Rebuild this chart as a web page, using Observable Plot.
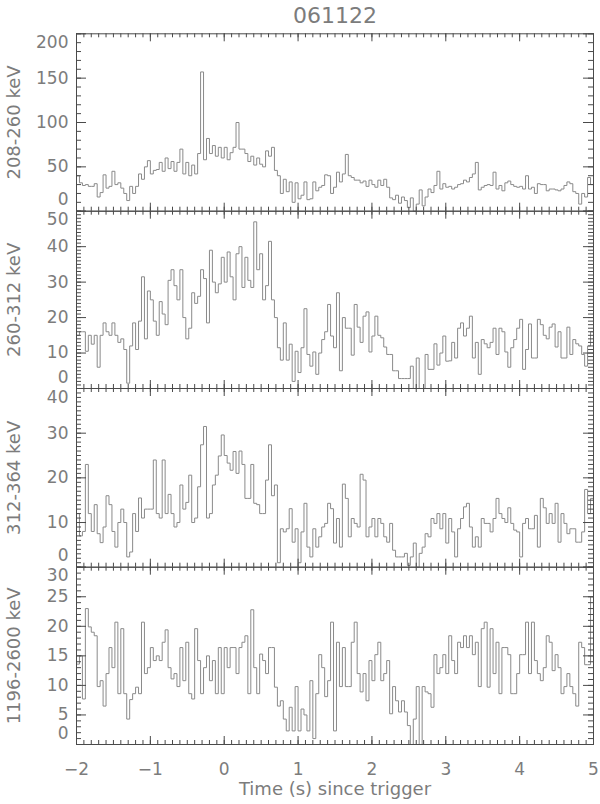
<!DOCTYPE html>
<html><head><meta charset="utf-8">
<script src="https://cdn.jsdelivr.net/npm/d3@7"></script>
<script src="https://cdn.jsdelivr.net/npm/@observablehq/plot@0.6"></script>
<style>
body{margin:0;background:#fff;}
#wrap{position:relative;width:600px;height:804px;overflow:hidden;background:#fff;}
#wrap svg{position:absolute;left:0;top:0;background:transparent !important;overflow:visible;}
</style></head><body><div id="wrap"></div>
<script>
// time bins: start -2 s, width 0.04 s
const tStart = -2;
const binWidth = 0.04;
const title = "061122";
const xTitle = "Time (s) since trigger";
const bandLabels = ["208-260 keV", "260-312 keV", "312-364 keV", "1196-2600 keV"];

const band1 = [40,32,29,30,28,28,31,16,21,41,
 26,28,45,30,32,26,20,12,28,20,
 28,42,36,50,57,42,46,47,55,45,
 60,48,56,45,55,70,42,55,40,52,
 42,65,157,58,82,65,74,62,72,60,
 72,58,66,72,100,70,70,65,56,62,
 52,60,53,50,68,62,72,46,40,20,
 36,22,33,10,32,14,18,33,13,14,
 33,23,27,29,41,40,20,27,44,33,
 42,64,40,38,35,35,32,34,28,35,
 30,27,35,29,36,27,15,13,18,9,
 16,12,4,15,0,8,24,6,16,25,
 21,29,45,25,31,27,28,25,27,30,
 31,35,33,38,42,55,24,27,29,30,
 29,44,25,29,23,32,34,30,28,27,
 28,25,40,25,27,20,31,30,30,23,
 25,25,24,23,25,29,33,31,22,20,
 8,20,16,38,30];

const band2 = [15,16,16,10.5,15,12.5,15,6,15,18.5,
 16,15,18.5,15,13,14,11,1.5,12,18.5,
 11,19,31.5,14,27.5,25,19,15,24.5,21,
 18,30.5,33.5,29,25,33.5,20,14,17,27,
 24,26,33.5,31,18.5,39,30,27,29.5,37,
 30,38.5,31.5,25,38,40,28.5,37,30.5,28.5,
 47,33.5,38,25,29,41.5,25,20,11.5,8,
 18.5,8,12.5,2,10.5,4.5,11.5,22.5,9.6,6.3,
 10.3,4,10,13.8,16,23.7,14.8,11.5,27,5,
 20,17,17,9.4,23.7,17.3,13,20.4,21.6,10.3,
 14.8,20.4,15,14.3,11.7,9.6,9.6,5,5,2.8,
 2.8,2.8,2.8,6.3,0,8.6,0,0,9.6,5.4,
 5.4,12.6,6.6,10,14.8,7.7,7.8,13,8.6,17,
 18.5,14.8,17,20.4,8.6,13,4,13.8,12.6,11.5,
 13,17,9.6,17,16,10.3,6,11.5,13.8,17,
 19.5,5.4,11,18.2,8.6,8.6,19.5,18,15,14,
 17.3,18.2,11.7,16,8.6,8.6,17.3,9.6,13.8,12.6,
 12,9.6,6.3,12,16];

const band3 = [12,7,8,23,12,8,14,7.5,5.5,9,
 16,14,8,4.5,10,13,10,2.3,3.4,12,
 8,15.5,11,13,13,13,24,12,11,24,
 12,16.3,12,9,10,18.4,13,14.5,20.6,10,
 11,18,27.4,31.5,11,12,18.4,20.6,24.9,29.6,
 25,23.3,21.7,25.9,21,26,23,15.4,15.4,23,
 14.3,14,12,12,19.5,27.4,16,18.4,1,8.6,
 7.9,8.6,13.1,5.6,8.6,1,7.9,14.3,4.5,2.3,
 8.6,4.5,6.8,9,9.8,14.3,13.1,5.4,10.9,4.5,
 18.6,15.4,6.8,10.9,9.8,9,20.8,19.5,6.8,9,
 10.9,6.8,10.9,9.8,6.8,5.6,9.8,3.8,2.3,2.3,
 2.3,3.1,0.4,2.3,5.4,0,3.1,4.5,7.5,6.8,
 10.9,9.8,12,8.6,12,5.4,10.9,7.9,2.3,8.6,
 10.9,13.5,14.3,9,4.5,6.8,4.5,10.9,9.8,9.8,
 7.9,10.9,15.4,12,10.9,10,13.3,9.8,8.3,7.9,
 2.3,9.8,10.9,8.6,8.6,11.6,4.5,15.4,13.3,9.8,
 12,9.8,14.3,5.6,12,9.8,7.5,8.6,8.6,5.6,
 5.6,7.9,17.4,12,15.4];

const band4 = [13.6,15,7.7,23,19.9,19,18.4,9.8,10.8,6.5,
 12,16.4,13,20.7,8.6,19.6,8.6,4.3,7.6,8.6,
 9.7,8.6,20.7,12,13,16.4,14.2,15,14.2,17.3,
 19.4,13,11.1,12,9.8,16.4,10.8,17.3,8.6,7.7,
 19.6,14.2,8.6,13,15,10.8,14.2,8.6,16.4,8.6,
 16.4,13,16.4,16.4,12,16.4,17.3,18.4,8.6,22.8,
 13,8.6,15.3,14.2,12,16.4,16.4,9.7,6.5,7.4,
 4.3,2.3,6.3,2.3,9.8,2.3,6,5,2.3,10.8,
 1,8.6,15.2,13,8.1,10.8,20.7,2.3,17.3,9.8,
 16.4,9.8,9.8,17.3,20.7,12,8.9,12,7.4,14.2,
 10.8,15.2,17.3,10.8,12,14.2,5.2,9.8,7.4,5.5,
 7.4,5.5,3.2,0,4.3,9.8,0,9.8,8.9,8.6,
 6.3,15.2,12,13,15.2,12,18.4,14.2,12,17.3,
 16.4,18.4,16.4,18.4,15.2,17.3,9.8,19.6,20.7,9.7,
 19.6,12,17.3,8.6,16.4,16.4,15.2,8.6,8.6,12,
 15.2,15.2,20.7,12,20.7,14.2,12,10.8,13,18.4,
 17.3,12.5,15.2,13,8.6,9.8,12,9.8,8.6,6.5,
 17.3,16.4,13.5,13.5,25];

const yMax = [200, 50, 40, 30];
const yMajorStep = [50, 10, 10, 5];
const yMinorStep = [10, 1, 1, 1];
const xDomain = [-2, 5];

// layout
const W = 600, H = 804, ML = 76, MR = 7;
const edges = [33.3, 210.7, 388, 566.7, 744];
const font = "'DejaVu Sans', 'Liberation Sans', sans-serif";
const dataColor = "#8a8a8a", axisColor = "#4a4a4a", textColor = "#7c7c7c";

const bands = [band1, band2, band3, band4];
const wrap = document.getElementById("wrap");
const xMajor = d3.range(xDomain[0], xDomain[1] + 1e-9, 1);
const xMinor = d3.range(0, 71).map(i => xDomain[0] + i * 0.1);
const fmtX = d => d < 0 ? "\u2212" + (-d) : String(d);

bands.forEach((values, k) => {
  const top = edges[k], bottom = edges[k + 1];
  const pw = W - ML - MR, ph = bottom - top;
  const rows = values.map((v, i) => ({t: tStart + i * binWidth, v}));
  rows.push({t: tStart + values.length * binWidth, v: values[values.length - 1]});
  const yMajor = d3.range(0, yMax[k] + 1e-9, yMajorStep[k]);
  const yMinor = d3.range(0, yMax[k] + 1e-9, yMinorStep[k]);
  const yLabels = yMajor.map(d => ({
    d,
    anchor: d === 0 ? "bottom" : d === yMax[k] ? "top" : "middle",
    shift: d === 0 ? -6 : d === yMax[k] ? 2 : 0
  }));
  const marks = [
    Plot.line(rows, {x: "t", y: "v", curve: "step-after", stroke: dataColor, strokeWidth: 1}),
    Plot.frame({stroke: axisColor, strokeWidth: 1}),
    Plot.tickY(yMinor, {y: d => d, insetRight: pw - 5, stroke: axisColor}),
    Plot.tickY(yMinor, {y: d => d, insetLeft: pw - 5, stroke: axisColor}),
    Plot.tickY(yMajor, {y: d => d, insetRight: pw - 10, stroke: axisColor}),
    Plot.tickY(yMajor, {y: d => d, insetLeft: pw - 10, stroke: axisColor}),
    Plot.tickX(xMinor, {x: d => d, insetBottom: ph - 4, stroke: axisColor}),
    Plot.tickX(xMinor, {x: d => d, insetTop: ph - 4, stroke: axisColor}),
    Plot.tickX(xMajor, {x: d => d, insetBottom: ph - 8, stroke: axisColor}),
    Plot.tickX(xMajor, {x: d => d, insetTop: ph - 8, stroke: axisColor}),
    ...yLabels.map(l => Plot.text([l], {y: "d", text: r => String(r.d), frameAnchor: "left", textAnchor: "end", lineAnchor: l.anchor, dx: -8, dy: l.shift, fontSize: 17, fill: textColor})),
    Plot.text([bandLabels[k]], {frameAnchor: "left", rotate: -90, dx: -62, fontSize: 18, fill: textColor, textAnchor: "middle", lineAnchor: "middle"})
  ];
  if (k === 0) {
    marks.push(Plot.text([title], {frameAnchor: "top", dy: -18, fontSize: 22, fill: textColor, lineAnchor: "middle"}));
  }
  if (k === 3) {
    marks.push(Plot.text(xMajor, {x: d => d, text: fmtX, frameAnchor: "bottom", dy: 18, lineAnchor: "top", fontSize: 17, fill: textColor}));
    marks.push(Plot.text([xTitle], {frameAnchor: "bottom", dy: 38, lineAnchor: "top", fontSize: 18, fill: textColor}));
  }
  const svg = Plot.plot({
    width: W, height: H,
    marginLeft: ML, marginRight: MR, marginTop: top, marginBottom: H - bottom,
    x: {domain: xDomain, axis: null},
    y: {domain: [0, yMax[k]], axis: null},
    style: {background: "transparent", fontFamily: font, overflow: "visible"},
    marks
  });
  wrap.appendChild(svg);
});
</script></body></html>
